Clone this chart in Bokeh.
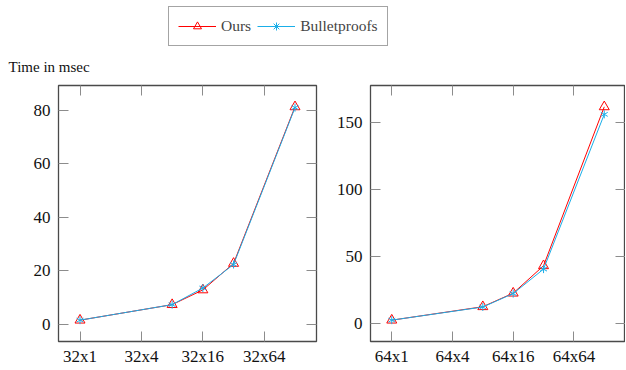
import numpy as np
from bokeh.plotting import figure
from bokeh.layouts import column, row
from bokeh.models import (Range1d, LinearAxis, LogAxis, FixedTicker, Legend,
                          LegendItem, Label)
from bokeh.embed import file_html
from bokeh.resources import INLINE

# ---------------- data ----------------
sizes = [1, 8, 16, 32, 128]
tick_vals = [1, 4, 16, 64]
left_tick_labels = ["32x1", "32x4", "32x16", "32x64"]
right_tick_labels = ["64x1", "64x4", "64x16", "64x64"]
left_ours = [1.5, 7.3, 12.8, 22.7, 81.2]
left_bullet = [1.5, 7.3, 13.5, 22.3, 80.9]
right_ours = [2.7, 12.7, 22.8, 43.2, 161.5]
right_bullet = [2.7, 12.5, 22.5, 40.7, 155.9]
left_yticks = [0, 20, 40, 60, 80]
right_yticks = [0, 50, 100, 150]
series_names = ["Ours", "Bulletproofs"]
ylabel = "Time in msec"

# ---------------- style ----------------
RED = "#ff0000"
CYAN = "#1aaee8"
SERIF = "Liberation Serif"
FRAME = "#4a4a4a"
TICK = "#8c8c8c"
TICK_FONT = "17px"
PANEL_H = 288


def style_axis(ax, labels=True):
    ax.axis_line_color = None
    ax.major_tick_in = 10
    ax.major_tick_out = 0
    ax.major_tick_line_color = TICK
    ax.major_tick_line_width = 1
    ax.minor_tick_line_color = None
    ax.major_label_text_font = SERIF
    ax.major_label_text_color = "#111111"
    if labels:
        ax.major_label_text_font_size = TICK_FONT
    else:
        ax.major_label_text_font_size = "1px"
        ax.major_label_text_color = None
        ax.major_label_standoff = 0


def add_asterisk(p, xs, ys, size, color):
    rs = []
    for ang in (np.pi / 2, np.pi / 6, -np.pi / 6):
        rs.append(p.scatter(xs, ys, marker="dash", size=size, angle=ang,
                            line_color=color, line_width=1))
    return rs


def panel(width, bl, br, ours, bullet, yticks, xlabels):
    lx = np.log2(sizes)
    pad = 0.1 * (lx.max() - lx.min())
    xr = Range1d(2 ** (lx.min() - pad), 2 ** (lx.max() + pad))
    allv = ours + bullet
    lo, hi = min(allv), max(allv)
    ypad = 0.1 * (hi - lo)
    yr = Range1d(lo - ypad, hi + ypad)
    p = figure(width=width, height=PANEL_H, x_axis_type="log",
               x_range=xr, y_range=yr, output_backend="svg",
               toolbar_location=None, min_border_left=bl,
               min_border_right=br, min_border_top=5, min_border_bottom=24)
    p.grid.visible = False
    p.outline_line_color = FRAME
    p.outline_line_width = 1.3
    p.background_fill_color = "white"
    p.border_fill_color = "white"

    xa = p.xaxis[0]
    xa.ticker = FixedTicker(ticks=tick_vals)
    xa.major_label_overrides = {t: l for t, l in zip(tick_vals, xlabels)}
    style_axis(xa)
    xa.major_label_standoff = 5
    ya = p.yaxis[0]
    ya.ticker = FixedTicker(ticks=yticks)
    style_axis(ya)
    ya.major_label_standoff = 8

    top = LogAxis(ticker=FixedTicker(ticks=tick_vals))
    style_axis(top, labels=False)
    p.add_layout(top, "above")
    right = LinearAxis(ticker=FixedTicker(ticks=yticks))
    style_axis(right, labels=False)
    p.add_layout(right, "right")

    p.line(sizes, ours, line_color=RED, line_width=1)
    p.scatter(sizes, ours, marker="triangle", size=10, fill_color=None,
              line_color=RED, line_width=1)
    p.line(sizes, bullet, line_color=CYAN, line_width=1)
    add_asterisk(p, sizes, bullet, 8, CYAN)
    return p


p1 = panel(326, 58, 10, left_ours, left_bullet, left_yticks, left_tick_labels)
p2 = panel(299, 44, 0, right_ours, right_bullet, right_yticks, right_tick_labels)

# ---------------- header with legend and y label ----------------
# the header's ranges lie outside the data, so its renderers only feed the legend
ph = figure(width=625, height=80, x_range=Range1d(-2, -1), y_range=Range1d(-2, -1),
            output_backend="svg", toolbar_location=None, min_border=0,
            x_axis_location=None, y_axis_location=None)
ph.grid.visible = False
ph.outline_line_color = None

r_l1 = ph.line(sizes, left_ours, line_color=RED, line_width=1)
r_m1 = ph.scatter(sizes, left_ours, marker="triangle", size=8, fill_color=None,
                  line_color=RED, line_width=1)
r_l2 = ph.line(sizes, left_bullet, line_color=CYAN, line_width=1)
r_m2 = ph.scatter(sizes, left_bullet, marker="asterisk", size=8,
                  line_color=CYAN, line_width=1)

legend = Legend(items=[LegendItem(label=series_names[0], renderers=[r_l1, r_m1]),
                       LegendItem(label=series_names[1], renderers=[r_l2, r_m2])],
                orientation="horizontal", location=(168, 34),
                label_text_font=SERIF, label_text_font_size="15.5px",
                glyph_width=38, glyph_height=20, label_height=20,
                label_standoff=5, spacing=6,
                padding=9, margin=0, border_line_color=FRAME,
                border_line_width=1.3, background_fill_alpha=1)
ph.add_layout(legend)

ph.add_layout(Label(x=8, y=14, x_units="screen", y_units="screen", text=ylabel,
                    text_font=SERIF, text_font_size="15px",
                    text_baseline="alphabetic", text_color="#111111"))

layout = column(ph, row(p1, p2))

open("out.html", "w").write(file_html(layout, INLINE))
